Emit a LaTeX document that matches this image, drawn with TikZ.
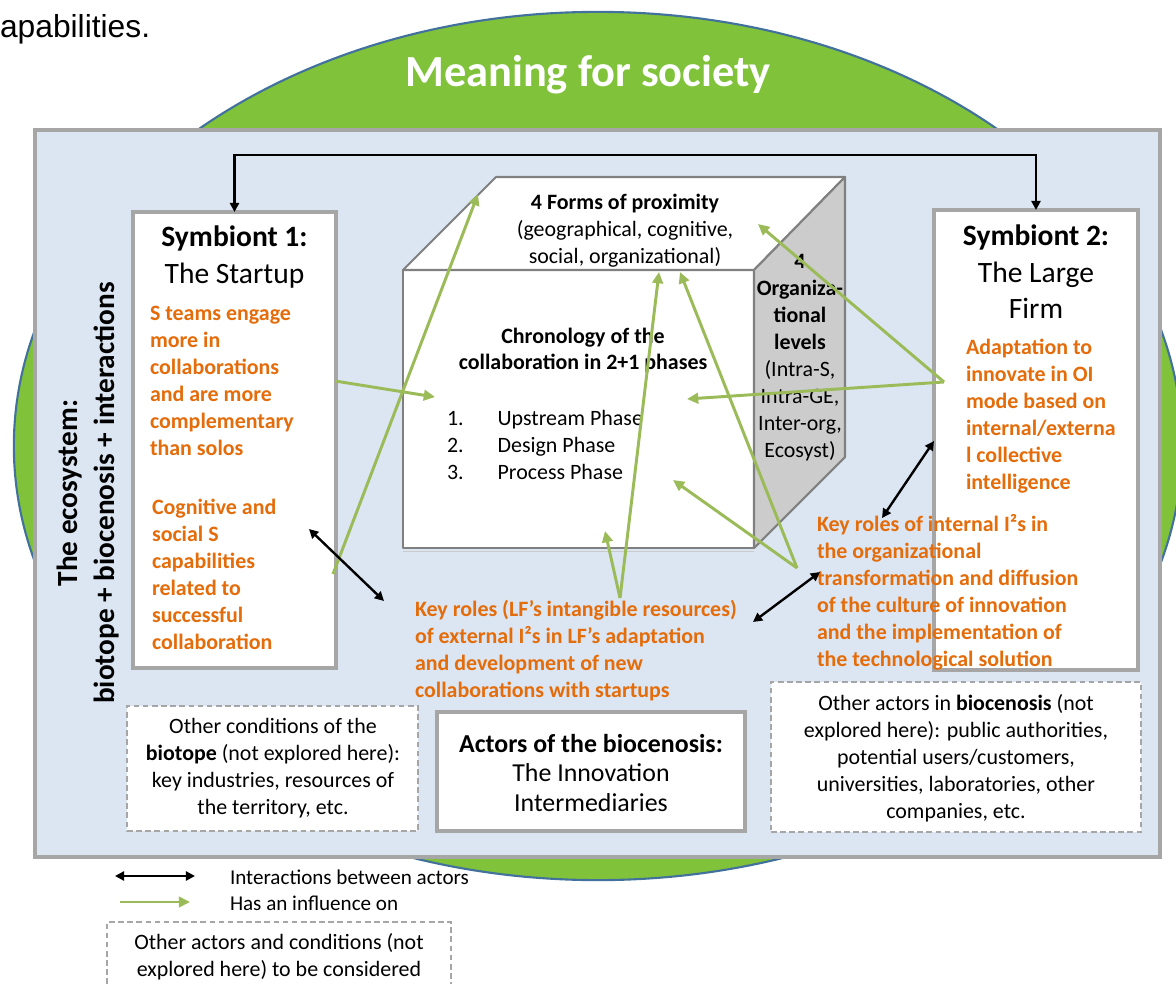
\documentclass[tikz,border=0pt]{standalone}
\usepackage{fontspec}
\setmainfont{Carlito}
\newfontfamily\arialfont{Liberation Sans}
\usetikzlibrary{arrows.meta,fit}
\definecolor{elgreen}{RGB}{128,194,58}
\definecolor{elblue}{RGB}{65,113,156}
\definecolor{bgblue}{RGB}{220,230,242}
\definecolor{boxgray}{RGB}{166,166,166}
\definecolor{cubegray}{RGB}{128,128,128}
\definecolor{facegray}{RGB}{204,204,204}
\definecolor{orangetxt}{RGB}{228,108,10}
\definecolor{arrowgreen}{RGB}{155,187,89}
\begin{document}
\begin{tikzpicture}[x=0.025cm,y=-0.025cm,
  every node/.style={inner sep=0pt,outer sep=0pt},
  bodyfont/.style={font=\fontsize{15.6}{19.2}\selectfont},
  legfont/.style={font=\fontsize{15}{18}\selectfont},
  orangeblock/.style={text=orangetxt,font=\bfseries\fontsize{15.6}{19.2}\selectfont,align=left,anchor=west},
  headfont/.style={font=\fontsize{21}{26}\selectfont,align=center},
  actorbox/.style={draw=boxgray,line width=2.3pt,fill=white},
  dashbox/.style={draw=boxgray,line width=1pt,dash pattern=on 4pt off 2.5pt,fill=white},
  infl/.style={draw=arrowgreen,line width=2.1pt,-{Triangle[length=8pt,width=7.5pt]}},
  inter/.style={draw=black,line width=1.7pt,{Triangle[length=6.5pt,width=6.5pt]}-{Triangle[length=6.5pt,width=6.5pt]}},
  cubeline/.style={draw=cubegray,line width=1.5pt,line join=round}]

\useasboundingbox (0,0) rectangle (1176,984);

% background ellipse and title
\draw[fill=elgreen,draw=elblue,line width=1.5pt] (598,446) ellipse [x radius=14.6cm,y radius=10.85cm];
\node[font=\arialfont\fontsize{22.6}{27}\selectfont,anchor=base west] (cap) at (0,38) {apabilities.};
\node[font=\bfseries\fontsize{31.6}{38}\selectfont,text=white] (title) at (588,75) {Meaning for society};

% ecosystem rectangle
\node[fit={(35,130) (1160,857)},draw=boxgray,line width=2.3pt,fill=bgblue] (eco) {};

% symbionts
\node[fit={(133,212) (336,668)},actorbox] (s1) {};
\node[fit={(934,210) (1138,670)},actorbox] (s2) {};

% cube
\coordinate (A) at (403,270);
\coordinate (B) at (754,270);
\coordinate (C) at (754,548);
\coordinate (D) at (403,548);
\coordinate (E) at (496,177);
\coordinate (F) at (845,177);
\coordinate (G) at (845,457);
\draw[cubeline,fill=white] (A) -- (B) -- (C) -- (D) -- cycle;
\draw[cubeline,fill=white] (A) -- (E) -- (F) -- (B) -- cycle;
\draw[cubeline,fill=facegray] (B) -- (F) -- (G) -- (C) -- cycle;
\draw[draw=boxgray!60,line width=1pt] ([yshift=-2.5pt]D) -- ([yshift=-2.5pt]C);

% bottom boxes
\node[fit={(127,706) (418,831)},dashbox] (biotope) {};
\node[fit={(437,712) (745,831)},actorbox] (actors) {};
\node[fit={(771,682) (1141,832)},dashbox] (others) {};

% ecosystem label
\node[rotate=90,font=\bfseries\fontsize{20.8}{26.3}\selectfont,align=center] (ecotxt) at (88,493) {The ecosystem:\\biotope + biocenosis + interactions};

% symbiont texts
\node[headfont] (s1h) at (234.5,257) {\textbf{Symbiont 1:}\\The Startup};
\node[headfont] (s2h) at (1036,272) {\textbf{Symbiont 2:}\\The Large\\Firm};
\node[orangeblock] (s1a) at (150,381) {S teams engage\\more in\\collaborations\\and are more\\complementary\\than solos};
\node[orangeblock] (s1b) at (152,574) {Cognitive and\\social S\\capabilities\\related to\\successful\\collaboration};
\node[orangeblock] (s2a) at (966,416) {Adaptation to\\innovate in OI\\mode based on\\internal/externa\\l collective\\intelligence};
\node[orangeblock] (s2b) at (817,592) {Key roles of internal I²s in\\the organizational\\transformation and diffusion\\of the culture of innovation\\and the implementation of\\the technological solution};
\node[orangeblock] (lf) at (415,651) {Key roles (LF's intangible resources)\\of external I²s in LF's adaptation\\and development of new\\collaborations with startups};

% cube texts
\node[bodyfont,align=center] (prox) at (625,231) {\textbf{4 Forms of proximity}\\(geographical, cognitive,\\social, organizational)};
\node[font=\bfseries\fontsize{15.6}{18.5}\selectfont,align=center] (chrono) at (583,351) {Chronology of the\\collaboration in 2+1 phases};
\node[bodyfont,anchor=west] (phases) at (447,447) {\begin{tabular}{@{}p{36pt}@{}l@{}}1. & Upstream Phase\\2. & Design Phase\\3. & Process Phase\end{tabular}};
\node[bodyfont,align=center] (levels) at (800,357.5) {\textbf{4}\\\textbf{Organiza-}\\\textbf{tional}\\\textbf{levels}\\(Intra-S,\\Intra-GE,\\Inter-org,\\Ecosyst)};

% bottom box texts
\node[bodyfont,align=center] (biotxt) at (273,768) {Other conditions of the\\\textbf{biotope} (not explored here):\\key industries, resources of\\the territory, etc.};
\node[font=\fontsize{18.4}{21}\selectfont,align=center] (acttxt) at (591,773) {\textbf{Actors of the biocenosis:}\\The Innovation\\Intermediaries};
\node[bodyfont,align=center] (othtxt) at (956,758) {Other actors in \textbf{biocenosis} (not\\explored here): public authorities,\\potential users/customers,\\universities, laboratories, other\\companies, etc.};

% top interaction connector
\coordinate (topy) at (0,155);
\draw[inter] (s1.north) -- (s1.north |- topy) -| (s2.north);

% influence arrows
\coordinate (g1s) at (335,381);  \coordinate (g1e) at (435,397);
\coordinate (g2s) at (333,574);  \coordinate (g2e) at (478,194);
\coordinate (g3s) at (620,598);  \coordinate (g3e) at (659,272);
\coordinate (g4e) at (605,531);
\coordinate (g5s) at (797,568);  \coordinate (g5e) at (680,272);
\coordinate (g6e) at (673,480);
\coordinate (g7s) at (944,382);  \coordinate (g7e) at (758,224);
\coordinate (g8e) at (687,399);
\draw[infl] (g1s) -- (g1e);
\draw[infl] (g2s) -- (g2e);
\draw[infl] (g3s) -- (g3e);
\draw[infl] (g3s) -- (g4e);
\draw[infl] (g5s) -- (g5e);
\draw[infl] (g5s) -- (g6e);
\draw[infl] (g7s) -- (g7e);
\draw[infl] (g7s) -- (g8e);

% interaction arrows
\coordinate (b1s) at (309,529); \coordinate (b1e) at (384,601);
\coordinate (b2s) at (753,622); \coordinate (b2e) at (820,572);
\coordinate (b3s) at (882,518); \coordinate (b3e) at (934,441);
\draw[inter] (b1s) -- (b1e);
\draw[inter] (b2s) -- (b2e);
\draw[inter] (b3s) -- (b3e);

% legend
\coordinate (lb1) at (115,876); \coordinate (lb2) at (195,876);
\draw[inter] (lb1) -- (lb2);
\coordinate (lg1) at (120,902); \coordinate (lg2) at (190,902);
\draw[infl] (lg1) -- (lg2);
\node[legfont,anchor=west] (legi) at (230,877) {Interactions between actors};
\node[legfont,anchor=west] (legh) at (230,903) {Has an influence on};
\coordinate (lx1) at (107,984); \coordinate (lx2) at (451,984); \coordinate (ltop) at (0,922);
\draw[draw=boxgray,line width=1pt,dash pattern=on 4pt off 2.5pt] (lx1) -- (lx1 |- ltop) -- (lx2 |- ltop) -- (lx2);
\node[bodyfont,align=center] (legtxt) at (279,957) {Other actors and conditions (not\\explored here) to be considered};
\end{tikzpicture}
\end{document}
